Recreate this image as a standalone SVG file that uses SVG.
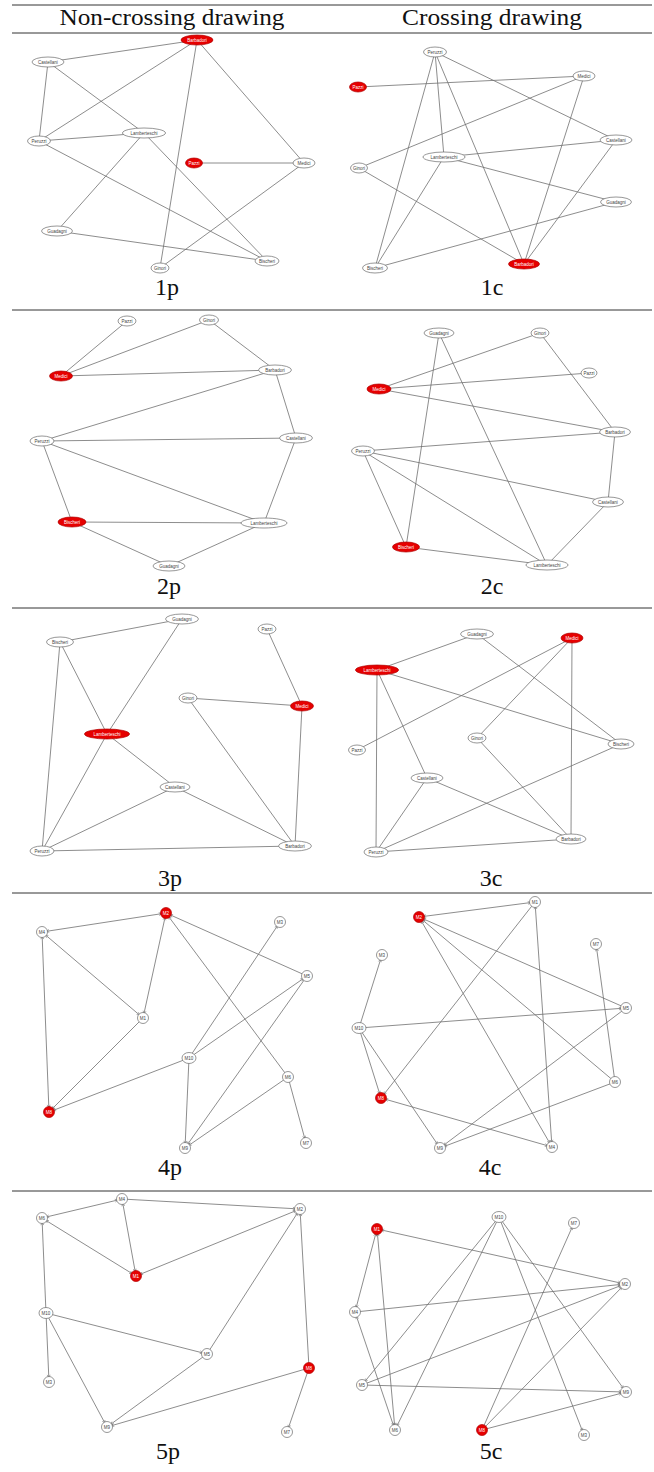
<svg xmlns="http://www.w3.org/2000/svg" width="654" height="1472" viewBox="0 0 654 1472">
<style>
.rule{stroke:#333;stroke-width:1}
.hd{font-family:"Liberation Serif","DejaVu Serif",serif;font-size:24px;fill:#111;text-anchor:middle}
.e{stroke:#707070;stroke-width:0.8;fill:none}
.a{marker-end:url(#ah)}
.b{marker-start:url(#ah);marker-end:url(#ah)}
.w ellipse,.w circle{fill:#fff;stroke:#6a6a6a;stroke-width:0.7}
.r ellipse,.r circle{fill:#e60000;stroke:#b00000;stroke-width:0.7}
.w text{font-family:"Liberation Sans",Arial,sans-serif;font-size:4.5px;fill:#444;text-anchor:middle}
.r text{font-family:"Liberation Sans",Arial,sans-serif;font-size:4.5px;fill:#fff;text-anchor:middle}
</style>
<defs>
<marker id="ah" markerUnits="userSpaceOnUse" orient="auto-start-reverse" refX="6" refY="0" markerWidth="10" markerHeight="10" viewBox="-6 -5 14 10" overflow="visible">
<path d="M-4,-2 L0,0 L-4,2" fill="none" stroke="#555" stroke-width="0.7"/>
</marker>
</defs>
<rect width="654" height="1472" fill="#fff"/>
<g id="table">
<line class="rule" x1="12" y1="5" x2="652" y2="5" stroke-width="1.3"/>
<line class="rule" x1="12" y1="33" x2="652" y2="33"/>
<line class="rule" x1="12" y1="310" x2="652" y2="310"/>
<line class="rule" x1="12" y1="608" x2="652" y2="608"/>
<line class="rule" x1="12" y1="893" x2="652" y2="893"/>
<line class="rule" x1="12" y1="1191" x2="652" y2="1191"/>
<text class="hd" x="172" y="25" textLength="225" lengthAdjust="spacingAndGlyphs">Non-crossing drawing</text>
<text class="hd" x="492" y="25" textLength="180" lengthAdjust="spacingAndGlyphs">Crossing drawing</text>
<text class="hd" x="167" y="295">1p</text>
<text class="hd" x="492" y="295">1c</text>
<text class="hd" x="169" y="594">2p</text>
<text class="hd" x="492" y="594">2c</text>
<text class="hd" x="170" y="886">3p</text>
<text class="hd" x="491" y="886">3c</text>
<text class="hd" x="170" y="1175">4p</text>
<text class="hd" x="490" y="1175">4c</text>
<text class="hd" x="168" y="1459">5p</text>
<text class="hd" x="491" y="1459">5c</text>
</g>
<g id="connectors">
<!-- 1p -->
<line class="e" x1="197" y1="40" x2="48" y2="62"/>
<line class="e" x1="197" y1="40" x2="39" y2="141"/>
<line class="e" x1="197" y1="40" x2="160" y2="268"/>
<line class="e" x1="197" y1="40" x2="304" y2="163"/>
<line class="e" x1="48" y1="62" x2="39" y2="141"/>
<line class="e" x1="48" y1="62" x2="144" y2="133"/>
<line class="e" x1="39" y1="141" x2="144" y2="133"/>
<line class="e" x1="39" y1="141" x2="267" y2="261"/>
<line class="e" x1="144" y1="133" x2="57" y2="231"/>
<line class="e" x1="144" y1="133" x2="267" y2="261"/>
<line class="e" x1="194" y1="163" x2="304" y2="163"/>
<line class="e" x1="304" y1="163" x2="160" y2="268"/>
<line class="e" x1="57" y1="231" x2="267" y2="261"/>
<!-- 1c -->
<line class="e" x1="435" y1="52" x2="616" y2="140"/>
<line class="e" x1="435" y1="52" x2="375" y2="268"/>
<line class="e" x1="435" y1="52" x2="444" y2="157"/>
<line class="e" x1="435" y1="52" x2="524" y2="264"/>
<line class="e" x1="358" y1="87" x2="584" y2="76"/>
<line class="e" x1="584" y1="76" x2="359" y2="168"/>
<line class="e" x1="584" y1="76" x2="524" y2="264"/>
<line class="e" x1="616" y1="140" x2="444" y2="157"/>
<line class="e" x1="616" y1="140" x2="524" y2="264"/>
<line class="e" x1="444" y1="157" x2="616" y2="202"/>
<line class="e" x1="444" y1="157" x2="375" y2="268"/>
<line class="e" x1="359" y1="168" x2="524" y2="264"/>
<line class="e" x1="616" y1="202" x2="375" y2="268"/>
<!-- 2p -->
<line class="e" x1="127" y1="321" x2="61" y2="376"/>
<line class="e" x1="209" y1="320" x2="61" y2="376"/>
<line class="e" x1="209" y1="320" x2="275" y2="370"/>
<line class="e" x1="61" y1="376" x2="275" y2="370"/>
<line class="e" x1="275" y1="370" x2="42" y2="441"/>
<line class="e" x1="275" y1="370" x2="296" y2="438"/>
<line class="e" x1="42" y1="441" x2="296" y2="438"/>
<line class="e" x1="42" y1="441" x2="264" y2="523"/>
<line class="e" x1="42" y1="441" x2="72" y2="522"/>
<line class="e" x1="296" y1="438" x2="264" y2="523"/>
<line class="e" x1="72" y1="522" x2="264" y2="523"/>
<line class="e" x1="72" y1="522" x2="169" y2="566"/>
<line class="e" x1="264" y1="523" x2="169" y2="566"/>
<!-- 2c -->
<line class="e" x1="439" y1="333" x2="406" y2="547"/>
<line class="e" x1="439" y1="333" x2="547" y2="565"/>
<line class="e" x1="540" y1="333" x2="379" y2="389"/>
<line class="e" x1="540" y1="333" x2="615" y2="432"/>
<line class="e" x1="589" y1="373" x2="379" y2="389"/>
<line class="e" x1="379" y1="389" x2="615" y2="432"/>
<line class="e" x1="615" y1="432" x2="363" y2="451"/>
<line class="e" x1="615" y1="432" x2="608" y2="502"/>
<line class="e" x1="363" y1="451" x2="608" y2="502"/>
<line class="e" x1="363" y1="451" x2="406" y2="547"/>
<line class="e" x1="363" y1="451" x2="547" y2="565"/>
<line class="e" x1="608" y1="502" x2="547" y2="565"/>
<line class="e" x1="406" y1="547" x2="547" y2="565"/>
<!-- 3p -->
<line class="e" x1="182" y1="619" x2="60" y2="642"/>
<line class="e" x1="182" y1="619" x2="107" y2="734"/>
<line class="e" x1="60" y1="642" x2="107" y2="734"/>
<line class="e" x1="60" y1="642" x2="42" y2="851"/>
<line class="e" x1="267" y1="629" x2="302" y2="706"/>
<line class="e" x1="188" y1="698" x2="302" y2="706"/>
<line class="e" x1="188" y1="698" x2="295" y2="846"/>
<line class="e" x1="302" y1="706" x2="295" y2="846"/>
<line class="e" x1="107" y1="734" x2="175" y2="787"/>
<line class="e" x1="107" y1="734" x2="42" y2="851"/>
<line class="e" x1="175" y1="787" x2="42" y2="851"/>
<line class="e" x1="175" y1="787" x2="295" y2="846"/>
<line class="e" x1="42" y1="851" x2="295" y2="846"/>
<!-- 3c -->
<line class="e" x1="477" y1="634" x2="377" y2="670"/>
<line class="e" x1="477" y1="634" x2="621" y2="744"/>
<line class="e" x1="572" y1="638" x2="357" y2="750"/>
<line class="e" x1="572" y1="638" x2="477" y2="738"/>
<line class="e" x1="572" y1="638" x2="571" y2="839"/>
<line class="e" x1="377" y1="670" x2="376" y2="852"/>
<line class="e" x1="377" y1="670" x2="427" y2="778"/>
<line class="e" x1="377" y1="670" x2="621" y2="744"/>
<line class="e" x1="477" y1="738" x2="571" y2="839"/>
<line class="e" x1="621" y1="744" x2="376" y2="852"/>
<line class="e" x1="427" y1="778" x2="376" y2="852"/>
<line class="e" x1="427" y1="778" x2="571" y2="839"/>
<line class="e" x1="376" y1="852" x2="571" y2="839"/>
<!-- 4p -->
<line class="e b" x1="42" y1="932" x2="166" y2="913"/>
<line class="e b" x1="166" y1="913" x2="143" y2="1018"/>
<line class="e b" x1="42" y1="932" x2="143" y2="1018"/>
<line class="e b" x1="42" y1="932" x2="49" y2="1112"/>
<line class="e a" x1="307" y1="976" x2="166" y2="913"/>
<line class="e a" x1="288" y1="1077" x2="166" y2="913"/>
<line class="e a" x1="143" y1="1018" x2="49" y2="1112"/>
<line class="e a" x1="189" y1="1058" x2="280" y2="922"/>
<line class="e a" x1="189" y1="1058" x2="307" y2="976"/>
<line class="e a" x1="189" y1="1058" x2="49" y2="1112"/>
<line class="e a" x1="189" y1="1058" x2="185" y2="1148"/>
<line class="e a" x1="307" y1="976" x2="185" y2="1148"/>
<line class="e a" x1="288" y1="1077" x2="185" y2="1148"/>
<line class="e a" x1="288" y1="1077" x2="306" y2="1143"/>
<!-- 4c -->
<line class="e b" x1="552" y1="1147" x2="419" y2="917"/>
<line class="e b" x1="419" y1="917" x2="535" y2="902"/>
<line class="e b" x1="552" y1="1147" x2="535" y2="902"/>
<line class="e b" x1="552" y1="1147" x2="381" y2="1098"/>
<line class="e a" x1="626" y1="1008" x2="419" y2="917"/>
<line class="e a" x1="615" y1="1082" x2="419" y2="917"/>
<line class="e a" x1="535" y1="902" x2="381" y2="1098"/>
<line class="e a" x1="359" y1="1028" x2="382" y2="955"/>
<line class="e a" x1="359" y1="1028" x2="626" y2="1008"/>
<line class="e a" x1="359" y1="1028" x2="381" y2="1098"/>
<line class="e a" x1="359" y1="1028" x2="440" y2="1148"/>
<line class="e a" x1="626" y1="1008" x2="440" y2="1148"/>
<line class="e a" x1="615" y1="1082" x2="440" y2="1148"/>
<line class="e a" x1="615" y1="1082" x2="596" y2="944"/>
<!-- 5p -->
<line class="e b" x1="122" y1="1199" x2="42" y2="1218"/>
<line class="e b" x1="136" y1="1276" x2="122" y2="1199"/>
<line class="e b" x1="136" y1="1276" x2="42" y2="1218"/>
<line class="e b" x1="300" y1="1209" x2="136" y2="1276"/>
<line class="e a" x1="122" y1="1199" x2="300" y2="1209"/>
<line class="e a" x1="46" y1="1313" x2="42" y2="1218"/>
<line class="e a" x1="46" y1="1313" x2="207" y2="1354"/>
<line class="e a" x1="46" y1="1313" x2="49" y2="1382"/>
<line class="e a" x1="46" y1="1313" x2="107" y2="1427"/>
<line class="e a" x1="207" y1="1354" x2="300" y2="1209"/>
<line class="e a" x1="207" y1="1354" x2="107" y2="1427"/>
<line class="e a" x1="309" y1="1368" x2="300" y2="1209"/>
<line class="e a" x1="309" y1="1368" x2="107" y2="1427"/>
<line class="e a" x1="309" y1="1368" x2="287" y2="1432"/>
<!-- 5c -->
<line class="e b" x1="377" y1="1229" x2="355" y2="1312"/>
<line class="e b" x1="377" y1="1229" x2="395" y2="1430"/>
<line class="e b" x1="395" y1="1430" x2="355" y2="1312"/>
<line class="e b" x1="625" y1="1284" x2="377" y2="1229"/>
<line class="e a" x1="355" y1="1312" x2="625" y2="1284"/>
<line class="e a" x1="499" y1="1217" x2="395" y2="1430"/>
<line class="e a" x1="499" y1="1217" x2="362" y2="1385"/>
<line class="e a" x1="499" y1="1217" x2="584" y2="1435"/>
<line class="e a" x1="499" y1="1217" x2="626" y2="1392"/>
<line class="e a" x1="362" y1="1385" x2="625" y2="1284"/>
<line class="e a" x1="362" y1="1385" x2="626" y2="1392"/>
<line class="e a" x1="482" y1="1430" x2="625" y2="1284"/>
<line class="e a" x1="482" y1="1430" x2="626" y2="1392"/>
<line class="e a" x1="482" y1="1430" x2="574" y2="1223"/>
</g>
<!-- 1p nodes -->
<g id="p1-barbadori" class="r"><ellipse cx="197" cy="40" rx="16" ry="5"/><text x="197" y="41.6">Barbadori</text></g>
<g id="p1-castellani" class="w"><ellipse cx="48" cy="62" rx="16" ry="5"/><text x="48" y="63.6">Castellani</text></g>
<g id="p1-peruzzi" class="w"><ellipse cx="39" cy="141" rx="11.5" ry="5"/><text x="39" y="142.6">Peruzzi</text></g>
<g id="p1-lamberteschi" class="w"><ellipse cx="144" cy="133" rx="21.5" ry="5"/><text x="144" y="134.6">Lamberteschi</text></g>
<g id="p1-pazzi" class="r"><ellipse cx="194" cy="163" rx="8.5" ry="5"/><text x="194" y="164.6">Pazzi</text></g>
<g id="p1-medici" class="w"><ellipse cx="304" cy="163" rx="11" ry="5"/><text x="304" y="164.6">Medici</text></g>
<g id="p1-guadagni" class="w"><ellipse cx="57" cy="231" rx="15.5" ry="5"/><text x="57" y="232.6">Guadagni</text></g>
<g id="p1-ginori" class="w"><ellipse cx="160" cy="268" rx="9" ry="5"/><text x="160" y="269.6">Ginori</text></g>
<g id="p1-bischeri" class="w"><ellipse cx="267" cy="261" rx="12" ry="5"/><text x="267" y="262.6">Bischeri</text></g>
<!-- 1c nodes -->
<g id="c1-peruzzi" class="w"><ellipse cx="435" cy="52" rx="11.5" ry="5"/><text x="435" y="53.6">Peruzzi</text></g>
<g id="c1-medici" class="w"><ellipse cx="584" cy="76" rx="11" ry="5"/><text x="584" y="77.6">Medici</text></g>
<g id="c1-pazzi" class="r"><ellipse cx="358" cy="87" rx="8.5" ry="5"/><text x="358" y="88.6">Pazzi</text></g>
<g id="c1-castellani" class="w"><ellipse cx="616" cy="140" rx="16" ry="5"/><text x="616" y="141.6">Castellani</text></g>
<g id="c1-lamberteschi" class="w"><ellipse cx="444" cy="157" rx="21" ry="5"/><text x="444" y="158.6">Lamberteschi</text></g>
<g id="c1-ginori" class="w"><ellipse cx="359" cy="168" rx="8.5" ry="5"/><text x="359" y="169.6">Ginori</text></g>
<g id="c1-guadagni" class="w"><ellipse cx="616" cy="202" rx="15.5" ry="5"/><text x="616" y="203.6">Guadagni</text></g>
<g id="c1-bischeri" class="w"><ellipse cx="375" cy="268" rx="12.5" ry="5"/><text x="375" y="269.6">Bischeri</text></g>
<g id="c1-barbadori" class="r"><ellipse cx="524" cy="264" rx="15.5" ry="5"/><text x="524" y="265.6">Barbadori</text></g>
<!-- 2p nodes -->
<g id="p2-pazzi" class="w"><ellipse cx="127" cy="321" rx="9" ry="5"/><text x="127" y="322.6">Pazzi</text></g>
<g id="p2-ginori" class="w"><ellipse cx="209" cy="320" rx="9.5" ry="5"/><text x="209" y="321.6">Ginori</text></g>
<g id="p2-medici" class="r"><ellipse cx="61" cy="376" rx="11.5" ry="5"/><text x="61" y="377.6">Medici</text></g>
<g id="p2-barbadori" class="w"><ellipse cx="275" cy="370" rx="16.5" ry="5"/><text x="275" y="371.6">Barbadori</text></g>
<g id="p2-peruzzi" class="w"><ellipse cx="42" cy="441" rx="12" ry="5"/><text x="42" y="442.6">Peruzzi</text></g>
<g id="p2-castellani" class="w"><ellipse cx="296" cy="438" rx="16.5" ry="5"/><text x="296" y="439.6">Castellani</text></g>
<g id="p2-bischeri" class="r"><ellipse cx="72" cy="522" rx="14" ry="5"/><text x="72" y="523.6">Bischeri</text></g>
<g id="p2-lamberteschi" class="w"><ellipse cx="264" cy="523" rx="23" ry="5"/><text x="264" y="524.6">Lamberteschi</text></g>
<g id="p2-guadagni" class="w"><ellipse cx="169" cy="566" rx="16" ry="5"/><text x="169" y="567.6">Guadagni</text></g>
<!-- 2c nodes -->
<g id="c2-guadagni" class="w"><ellipse cx="439" cy="333" rx="15" ry="5"/><text x="439" y="334.6">Guadagni</text></g>
<g id="c2-ginori" class="w"><ellipse cx="540" cy="333" rx="9" ry="5"/><text x="540" y="334.6">Ginori</text></g>
<g id="c2-pazzi" class="w"><ellipse cx="589" cy="373" rx="8" ry="5"/><text x="589" y="374.6">Pazzi</text></g>
<g id="c2-medici" class="r"><ellipse cx="379" cy="389" rx="12" ry="5"/><text x="379" y="390.6">Medici</text></g>
<g id="c2-barbadori" class="w"><ellipse cx="615" cy="432" rx="15.5" ry="5"/><text x="615" y="433.6">Barbadori</text></g>
<g id="c2-peruzzi" class="w"><ellipse cx="363" cy="451" rx="11.5" ry="5"/><text x="363" y="452.6">Peruzzi</text></g>
<g id="c2-castellani" class="w"><ellipse cx="608" cy="502" rx="15.5" ry="5"/><text x="608" y="503.6">Castellani</text></g>
<g id="c2-bischeri" class="r"><ellipse cx="406" cy="547" rx="13.5" ry="5"/><text x="406" y="548.6">Bischeri</text></g>
<g id="c2-lamberteschi" class="w"><ellipse cx="547" cy="565" rx="21" ry="5"/><text x="547" y="566.6">Lamberteschi</text></g>
<!-- 3p nodes -->
<g id="p3-guadagni" class="w"><ellipse cx="182" cy="619" rx="16.5" ry="5"/><text x="182" y="620.6">Guadagni</text></g>
<g id="p3-pazzi" class="w"><ellipse cx="267" cy="629" rx="9" ry="5"/><text x="267" y="630.6">Pazzi</text></g>
<g id="p3-bischeri" class="w"><ellipse cx="60" cy="642" rx="13.5" ry="5"/><text x="60" y="643.6">Bischeri</text></g>
<g id="p3-ginori" class="w"><ellipse cx="188" cy="698" rx="9" ry="5"/><text x="188" y="699.6">Ginori</text></g>
<g id="p3-medici" class="r"><ellipse cx="302" cy="706" rx="11.5" ry="5"/><text x="302" y="707.6">Medici</text></g>
<g id="p3-lamberteschi" class="r"><ellipse cx="107" cy="734" rx="22.5" ry="5"/><text x="107" y="735.6">Lamberteschi</text></g>
<g id="p3-castellani" class="w"><ellipse cx="175" cy="787" rx="15" ry="5"/><text x="175" y="788.6">Castellani</text></g>
<g id="p3-peruzzi" class="w"><ellipse cx="42" cy="851" rx="12" ry="5"/><text x="42" y="852.6">Peruzzi</text></g>
<g id="p3-barbadori" class="w"><ellipse cx="295" cy="846" rx="16.5" ry="5"/><text x="295" y="847.6">Barbadori</text></g>
<!-- 3c nodes -->
<g id="c3-guadagni" class="w"><ellipse cx="477" cy="634" rx="16.5" ry="5"/><text x="477" y="635.6">Guadagni</text></g>
<g id="c3-medici" class="r"><ellipse cx="572" cy="638" rx="11" ry="5"/><text x="572" y="639.6">Medici</text></g>
<g id="c3-lamberteschi" class="r"><ellipse cx="377" cy="670" rx="21.5" ry="5"/><text x="377" y="671.6">Lamberteschi</text></g>
<g id="c3-pazzi" class="w"><ellipse cx="357" cy="750" rx="8.5" ry="5"/><text x="357" y="751.6">Pazzi</text></g>
<g id="c3-ginori" class="w"><ellipse cx="477" cy="738" rx="9" ry="5"/><text x="477" y="739.6">Ginori</text></g>
<g id="c3-bischeri" class="w"><ellipse cx="621" cy="744" rx="13" ry="5"/><text x="621" y="745.6">Bischeri</text></g>
<g id="c3-castellani" class="w"><ellipse cx="427" cy="778" rx="16" ry="5"/><text x="427" y="779.6">Castellani</text></g>
<g id="c3-barbadori" class="w"><ellipse cx="571" cy="839" rx="15" ry="5"/><text x="571" y="840.6">Barbadori</text></g>
<g id="c3-peruzzi" class="w"><ellipse cx="376" cy="852" rx="12" ry="5"/><text x="376" y="853.6">Peruzzi</text></g>
<!-- 4p nodes -->
<g id="p4-m2" class="r"><circle cx="166" cy="913" r="5.5"/><text x="166" y="914.5">M2</text></g>
<g id="p4-m4" class="w"><circle cx="42" cy="932" r="5.5"/><text x="42" y="933.5">M4</text></g>
<g id="p4-m3" class="w"><circle cx="280" cy="922" r="5.5"/><text x="280" y="923.5">M3</text></g>
<g id="p4-m5" class="w"><circle cx="307" cy="976" r="5.5"/><text x="307" y="977.5">M5</text></g>
<g id="p4-m1" class="w"><circle cx="143" cy="1018" r="5.5"/><text x="143" y="1019.5">M1</text></g>
<g id="p4-m10" class="w"><ellipse cx="189" cy="1058" rx="7" ry="5.5"/><text x="189" y="1059.5">M10</text></g>
<g id="p4-m6" class="w"><circle cx="288" cy="1077" r="5.5"/><text x="288" y="1078.5">M6</text></g>
<g id="p4-m8" class="r"><circle cx="49" cy="1112" r="5.5"/><text x="49" y="1113.5">M8</text></g>
<g id="p4-m9" class="w"><circle cx="185" cy="1148" r="5.5"/><text x="185" y="1149.5">M9</text></g>
<g id="p4-m7" class="w"><circle cx="306" cy="1143" r="5.5"/><text x="306" y="1144.5">M7</text></g>
<!-- 4c nodes -->
<g id="c4-m1" class="w"><circle cx="535" cy="902" r="5.5"/><text x="535" y="903.5">M1</text></g>
<g id="c4-m2" class="r"><circle cx="419" cy="917" r="5.5"/><text x="419" y="918.5">M2</text></g>
<g id="c4-m7" class="w"><circle cx="596" cy="944" r="5.5"/><text x="596" y="945.5">M7</text></g>
<g id="c4-m3" class="w"><circle cx="382" cy="955" r="5.5"/><text x="382" y="956.5">M3</text></g>
<g id="c4-m5" class="w"><circle cx="626" cy="1008" r="5.5"/><text x="626" y="1009.5">M5</text></g>
<g id="c4-m10" class="w"><ellipse cx="359" cy="1028" rx="7" ry="5.5"/><text x="359" y="1029.5">M10</text></g>
<g id="c4-m6" class="w"><circle cx="615" cy="1082" r="5.5"/><text x="615" y="1083.5">M6</text></g>
<g id="c4-m8" class="r"><circle cx="381" cy="1098" r="5.5"/><text x="381" y="1099.5">M8</text></g>
<g id="c4-m9" class="w"><circle cx="440" cy="1148" r="5.5"/><text x="440" y="1149.5">M9</text></g>
<g id="c4-m4" class="w"><circle cx="552" cy="1147" r="5.5"/><text x="552" y="1148.5">M4</text></g>
<!-- 5p nodes -->
<g id="p5-m4" class="w"><circle cx="122" cy="1199" r="5.5"/><text x="122" y="1200.5">M4</text></g>
<g id="p5-m6" class="w"><circle cx="42" cy="1218" r="5.5"/><text x="42" y="1219.5">M6</text></g>
<g id="p5-m2" class="w"><circle cx="300" cy="1209" r="5.5"/><text x="300" y="1210.5">M2</text></g>
<g id="p5-m1" class="r"><circle cx="136" cy="1276" r="5.5"/><text x="136" y="1277.5">M1</text></g>
<g id="p5-m10" class="w"><ellipse cx="46" cy="1313" rx="7" ry="5.5"/><text x="46" y="1314.5">M10</text></g>
<g id="p5-m5" class="w"><circle cx="207" cy="1354" r="5.5"/><text x="207" y="1355.5">M5</text></g>
<g id="p5-m8" class="r"><circle cx="309" cy="1368" r="5.5"/><text x="309" y="1369.5">M8</text></g>
<g id="p5-m3" class="w"><circle cx="49" cy="1382" r="5.5"/><text x="49" y="1383.5">M3</text></g>
<g id="p5-m9" class="w"><circle cx="107" cy="1427" r="5.5"/><text x="107" y="1428.5">M9</text></g>
<g id="p5-m7" class="w"><circle cx="287" cy="1432" r="5.5"/><text x="287" y="1433.5">M7</text></g>
<!-- 5c nodes -->
<g id="c5-m10" class="w"><ellipse cx="499" cy="1217" rx="7" ry="5.5"/><text x="499" y="1218.5">M10</text></g>
<g id="c5-m7" class="w"><circle cx="574" cy="1223" r="5.5"/><text x="574" y="1224.5">M7</text></g>
<g id="c5-m1" class="r"><circle cx="377" cy="1229" r="5.5"/><text x="377" y="1230.5">M1</text></g>
<g id="c5-m2" class="w"><circle cx="625" cy="1284" r="5.5"/><text x="625" y="1285.5">M2</text></g>
<g id="c5-m4" class="w"><circle cx="355" cy="1312" r="5.5"/><text x="355" y="1313.5">M4</text></g>
<g id="c5-m5" class="w"><circle cx="362" cy="1385" r="5.5"/><text x="362" y="1386.5">M5</text></g>
<g id="c5-m9" class="w"><circle cx="626" cy="1392" r="5.5"/><text x="626" y="1393.5">M9</text></g>
<g id="c5-m6" class="w"><circle cx="395" cy="1430" r="5.5"/><text x="395" y="1431.5">M6</text></g>
<g id="c5-m8" class="r"><circle cx="482" cy="1430" r="5.5"/><text x="482" y="1431.5">M8</text></g>
<g id="c5-m3" class="w"><circle cx="584" cy="1435" r="5.5"/><text x="584" y="1436.5">M3</text></g>
</svg>
